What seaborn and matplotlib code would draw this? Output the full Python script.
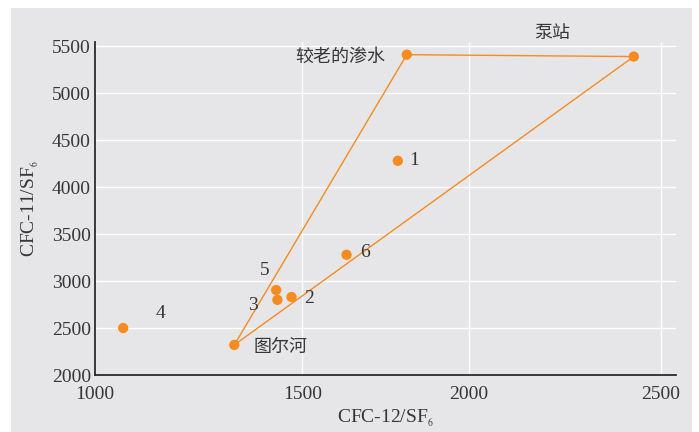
import numpy as np
import matplotlib
matplotlib.use('Agg')
import matplotlib.pyplot as plt
from matplotlib.patches import Rectangle
import pandas as pd
import seaborn as sns

# sample sites
labels = ['较老的渗水', '泵站', '1', '2', '3', '4', '5', '6', '图尔河']
cfc12_sf6 = [1814, 2430, 1787, 1474, 1440, 1068, 1437, 1633, 1336]
cfc11_sf6 = [5410, 5390, 4280, 2830, 2800, 2500, 2905, 3280, 2320]

# mixing triangle between the end members
triangle = ['图尔河', '较老的渗水', '泵站', '图尔河']

x_ticks = [1000, 1500, 2000, 2500]
y_ticks = [2000, 2500, 3000, 3500, 4000, 4500, 5000, 5500]

df = pd.DataFrame({'site': labels, 'x': cfc12_sf6, 'y': cfc11_sf6}).set_index('site')
tri = df.loc[triangle].reset_index()

# label offsets in points (dx, dy, ha)
offsets = {
    '较老的渗水': (-15.5, -1.5, 'right'),
    '泵站': (-59, 17, 'center'),
    '1': (12, 0, 'center'),
    '2': (12.5, -1.2, 'center'),
    '3': (-17.5, -4.3, 'center'),
    '4': (27, 10.3, 'center'),
    '5': (-8.6, 13.8, 'center'),
    '6': (13.2, 1.4, 'center'),
    '图尔河': (14, -1.7, 'left'),
}

bg = '#e6e6e8'
orange = '#f68b1f'
txt = '#363636'

sns.set_theme(style='darkgrid')
plt.rcParams['font.family'] = ['Liberation Serif', 'Noto Sans CJK SC']
plt.rcParams['mathtext.fontset'] = 'stix'

fig = plt.figure(figsize=(6.99, 4.32), dpi=100)
fig.patch.set_facecolor('white')
fig.add_artist(Rectangle((11 / 699, 0), 681 / 699, 424 / 432, transform=fig.transFigure,
                         facecolor=bg, edgecolor='none', zorder=-10))
ax = fig.add_axes([95 / 699, 57 / 432, 581 / 699, 333 / 432])
ax.set_facecolor(bg)

# the printed x axis is not evenly spaced; follow it with a piecewise scale
_d = [0, 1000, 1500, 2000, 2500, 4000]
_p = [-320.0, 95.0, 302.3, 468.7, 660.7, 1236.7]
ax.set_xscale('function', functions=(lambda v: np.interp(v, _d, _p),
                                     lambda v: np.interp(v, _p, _d)))

sns.lineplot(data=tri, x='x', y='y', sort=False, estimator=None, color=orange,
             linewidth=1.0, ax=ax, zorder=2)
sns.scatterplot(data=df.reset_index(), x='x', y='y', color=orange, s=55,
                edgecolor='none', ax=ax, zorder=3)

for site, row in df.iterrows():
    dx, dy, ha = offsets[site]
    cjk = not site.isdigit()
    ax.annotate(site, (row['x'], row['y']), xytext=(dx, dy), textcoords='offset points',
                ha=ha, va='center', color=txt, fontsize=13 if cjk else 14,
                family=['Noto Sans CJK SC'] if cjk else ['Liberation Serif'])

ax.set_xlim(1000, 2540)
ax.set_ylim(2000, 5545)
ax.set_xticks(x_ticks)
ax.set_yticks(y_ticks)
ax.grid(True, color='white', linewidth=1.0)
ax.tick_params(axis='both', length=0, labelsize=14, colors=txt)
ax.tick_params(axis='x', pad=8)
ax.tick_params(axis='y', pad=3)

for side in ['top', 'right']:
    ax.spines[side].set_visible(False)
for side in ['left', 'bottom']:
    ax.spines[side].set_visible(True)
    ax.spines[side].set_color('#2a2a2a')
    ax.spines[side].set_linewidth(1.3)

ax.set_xlabel('CFC-12/SF$_{_6}$', fontsize=14, color=txt, labelpad=3)
ax.set_ylabel('CFC-11/SF$_{_6}$', fontsize=14, color=txt, labelpad=8)

plt.savefig('out.png', dpi=100, facecolor='white')
